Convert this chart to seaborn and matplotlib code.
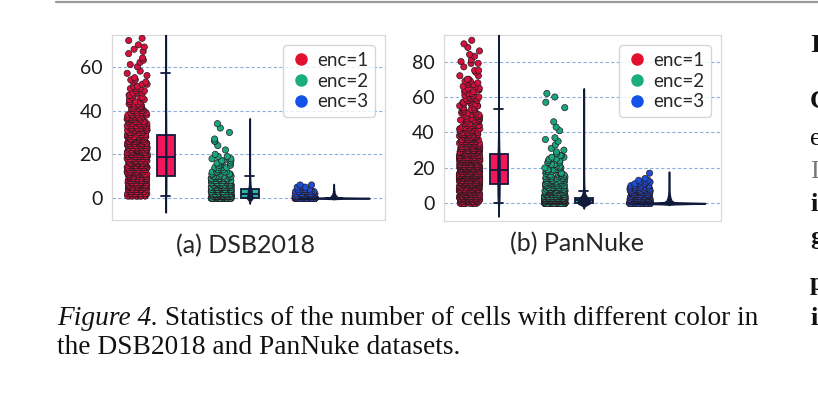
import numpy as np
import pandas as pd
import seaborn as sns
import matplotlib.pyplot as plt
from matplotlib.lines import Line2D

enc_labels = ['enc=1', 'enc=2', 'enc=3']

dsb_enc1_val = list(range(1, 56)) + [56, 57, 58, 60, 61, 62, 63, 64, 66, 67, 68, 69, 70, 72, 73]
dsb_enc1_cnt = [15, 18, 19, 19, 19, 19, 19, 19, 18,
                19, 19, 19, 19, 18, 18, 18, 18, 18,
                18, 18, 18, 18, 17, 17, 17, 17, 17, 17,
                12, 12, 11, 11, 10, 10, 9, 9, 8, 8, 7, 6,
                5, 5, 4, 4, 3, 3, 3, 3, 2, 3, 2, 2, 2, 2, 1,
                1, 1, 1, 1, 1, 1, 1, 1, 1, 1, 1, 1, 1, 1, 1]
dsb_enc2_val = list(range(0, 21)) + [22, 24, 26, 27, 30, 32, 34]
dsb_enc2_cnt = [185, 85, 75, 80, 80, 33, 27, 21, 16, 13, 10,
                7, 6, 5, 4, 3, 3, 3, 2, 2, 1,
                1, 1, 2, 1, 1, 1, 1]
dsb_enc3_val = [0, 1, 2, 3, 4, 5, 6]
dsb_enc3_cnt = [580, 45, 22, 13, 7, 3, 2]

pan_enc1_val = list(range(0, 71)) + [72, 74, 75, 77, 79, 80, 81, 83, 84, 86, 88, 90, 92]
pan_enc1_cnt = [15, 18, 30, 30, 30, 30, 30, 30, 30, 30, 30,
                38, 38, 38, 37, 37, 37, 37, 37,
                35, 35, 34, 34, 34, 34, 34, 33, 33,
                21, 20, 19, 18, 17, 16, 14, 13, 12, 11, 10, 9, 8,
                7, 7, 6, 6, 5, 5, 5, 4, 4, 4, 3,
                3, 3, 3, 3, 3, 3, 3, 3, 3, 2, 3, 2, 3, 2, 2, 3, 2, 2, 2,
                2, 1, 2, 1, 2, 1, 1, 1, 1, 1, 1, 1, 1]
pan_enc2_val = list(range(0, 32)) + [33, 35, 36, 37, 41, 43, 46, 54, 57, 60, 62]
pan_enc2_cnt = [380, 200, 180, 190, 70, 50, 35, 25, 18, 14, 12,
                10, 9, 8, 7, 6, 5, 5, 4, 4, 3, 3, 3, 2, 2, 2, 2, 2, 1, 1, 1, 1,
                1, 1, 1, 1, 1, 1, 1, 1, 1, 1, 1]
pan_enc3_val = list(range(0, 15)) + [17]
pan_enc3_cnt = [1200, 120, 70, 50, 35, 25, 18, 12, 9, 7, 5, 4, 3, 2, 1, 1]

dsb_yticks = [0, 20, 40, 60]
pan_yticks = [0, 20, 40, 60, 80]
titles = ['(a) DSB2018', '(b) PanNuke']
caption1 = ' Statistics of the number of cells with different color in'
caption2 = 'the DSB2018 and PanNuke datasets.'

strip_pal = {'enc=1': '#d4103c', 'enc=2': '#17a67d', 'enc=3': '#1a4fd6'}
box_pal = {'enc=1': '#f0175a', 'enc=2': '#2bb5a0', 'enc=3': '#1a50e0'}
legend_cols = ['#e3102f', '#1bad80', '#1352e8']
navy = '#101a3c'
offset = 0.17

sns.set_theme(style='white')
plt.rcParams['font.family'] = ['Lato', 'DejaVu Sans']

fig = plt.figure(figsize=(8.18, 3.95), dpi=100)
ax1 = fig.add_axes([0.1369, 0.4430, 0.3337, 0.4684])
ax2 = fig.add_axes([0.5428, 0.4405, 0.3386, 0.4709])


def panel_frame(vals, cnts):
    parts = []
    for i, (v, c) in enumerate(zip(vals, cnts)):
        parts.append(pd.DataFrame({'enc': enc_labels[i], 'pos': i,
                                   'value': np.repeat(v, c)}))
    d = pd.concat(parts, ignore_index=True)
    d['spos'] = d['pos'] - offset
    d['vpos'] = d['pos'] + offset
    return d


np.random.seed(3)  # jitter only
panels = [
    (ax1, panel_frame([dsb_enc1_val, dsb_enc2_val, dsb_enc3_val],
                      [dsb_enc1_cnt, dsb_enc2_cnt, dsb_enc3_cnt]), dsb_yticks, (-10, 74.5)),
    (ax2, panel_frame([pan_enc1_val, pan_enc2_val, pan_enc3_val],
                      [pan_enc1_cnt, pan_enc2_cnt, pan_enc3_cnt]), pan_yticks, (-10, 95)),
]

for ax, d, yt, yl in panels:
    sns.stripplot(data=d, x='spos', y='value', hue='enc', palette=strip_pal,
                  native_scale=True, jitter=0.12, size=4.5, edgecolor='#2a1a22',
                  linewidth=0.5, legend=False, dodge=False, zorder=3, ax=ax)
    sns.boxplot(data=d, x='vpos', y='value', hue='enc', palette=box_pal,
                native_scale=True, width=0.21, showfliers=False, saturation=1,
                linecolor=navy, linewidth=1.3, legend=False, dodge=False,
                zorder=4, ax=ax)
    sns.violinplot(data=d, x='vpos', y='value', native_scale=True, color=navy,
                   linecolor=navy, linewidth=1.2, inner=None, width=0.85,
                   bw_adjust=0.6, cut=3.3, saturation=1, zorder=5, ax=ax)
    ax.set_xlim(-0.47, 2.78)
    ax.set_ylim(yl)
    ax.set_yticks(yt)
    ax.set_xticks([])
    ax.set_xlabel('')
    ax.set_ylabel('')
    ax.yaxis.grid(True, linestyle=(0, (3, 2)), color='#8cb0de', linewidth=0.8)
    ax.set_axisbelow(True)
    ax.tick_params(axis='y', length=0, labelsize=14, pad=7, labelcolor='#1a1a1a')
    for s in ax.spines.values():
        s.set_color('#d9d9d9')
        s.set_linewidth(0.9)
    handles = [Line2D([], [], marker='o', ls='', color=c, markersize=8) for c in legend_cols]
    ax.legend(handles, enc_labels, loc='upper right', fontsize=13.5, frameon=True,
              edgecolor='#cccccc', handletextpad=0.25, labelspacing=0.2,
              borderpad=0.35, borderaxespad=0.55, handlelength=1.2)

fig.text(245 / 818, 1 - 246 / 395, titles[0], ha='center', va='center', fontsize=18)
fig.text(577 / 818, 1 - 244 / 395, titles[1], ha='center', va='center', fontsize=18)

# caption
serif = ['Liberation Serif', 'DejaVu Serif']
t = fig.text(57 / 818, 1 - 325 / 395, 'Figure 4.', family=serif, style='italic',
             fontsize=19.7, va='baseline', color='#111111')
fig.canvas.draw()
bb = t.get_window_extent()
fig.text(bb.x1 / 818, 1 - 325 / 395, caption1, family=serif, fontsize=19.7,
         va='baseline', color='#111111')
fig.text(57 / 818, 1 - 354 / 395, caption2, family=serif, fontsize=19.7,
         va='baseline', color='#111111')

# right column fragment
right_chars = ['I', 'C', 'e', 'I', 'i', 'g', 'p', 'i']
right_y = [52, 108, 145, 178, 211, 244, 290, 325]
right_w = ['bold', 'bold', 'normal', 'normal', 'bold', 'bold', 'bold', 'bold']
right_c = ['#111111', '#111111', '#111111', '#777777', '#111111', '#111111', '#111111', '#111111']
for ch, y, w, c in zip(right_chars, right_y, right_w, right_c):
    fig.text(810 / 818, 1 - y / 395, ch, family=serif, fontweight=w, color=c,
             fontsize=19, va='baseline')

fig.add_artist(Line2D([56 / 818, 1], [1 - 1.5 / 395] * 2, color='#9a9a9a', lw=1.6))

fig.savefig('out.png', dpi=100, facecolor='white')
